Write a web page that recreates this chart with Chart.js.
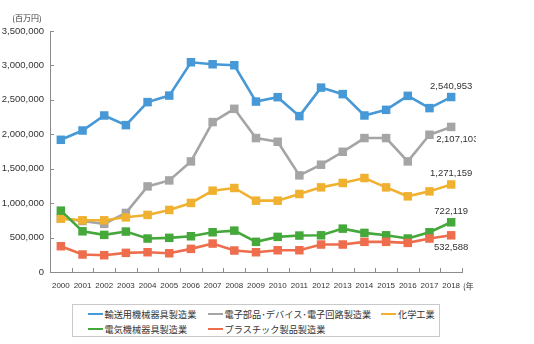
<!DOCTYPE html>
<html lang="ja">
<head>
<meta charset="utf-8">
<script src="https://cdn.jsdelivr.net/npm/chart.js@4/dist/chart.umd.min.js"></script>
<style>
  html, body { margin: 0; padding: 0; background: #fff; }
  body { width: 534px; height: 344px; position: relative; overflow: hidden; }
  #wrap { position: absolute; left: 0; top: 0; width: 476px; height: 300px; }
  #legend {
    position: absolute; left: 72px; top: 304px; width: 366px; height: 31px;
    border: 1.5px solid #c9c9c9; box-sizing: content-box;
    font-family: "Noto Sans CJK JP", sans-serif; font-size: 9.2px; color: #333;
  }
  .item { position: absolute; display: flex; align-items: center; white-space: nowrap; height: 12px; }
  .sw { width: 15px; height: 2.5px; margin-right: 2px; }
</style>
</head>
<body>
<div id="wrap"><canvas id="c" width="476" height="300"></canvas></div>
<div id="legend"></div>
<script>
// 製造品出荷額等の推移（百万円）
const years = ['2000','2001','2002','2003','2004','2005','2006','2007','2008','2009',
               '2010','2011','2012','2013','2014','2015','2016','2017','2018'];
const yMax = 3500000;
const yStep = 500000;

const seriesNames = ['輸送用機械器具製造業', '電子部品･デバイス･電子回路製造業', '化学工業',
                     '電気機械器具製造業', 'プラスチック製品製造業'];

const transport   = [1920000, 2055000, 2273000, 2133000, 2467000, 2562000, 3046000, 3017000, 3003000, 2475000,
                     2539000, 2264000, 2678000, 2583000, 2273000, 2355000, 2558000, 2380000, 2540953];
const electronics = [780000, 740000, 699000, 858000, 1243000, 1330000, 1606000, 2177000, 2370000, 1945000,
                     1891000, 1403000, 1558000, 1746000, 1945000, 1945000, 1606000, 1993000, 2107103];
const chemical    = [775000, 751000, 751000, 794000, 829000, 901000, 1003000, 1181000, 1220000, 1036000,
                     1036000, 1133000, 1229000, 1293000, 1365000, 1229000, 1099000, 1171000, 1271159];
const electrical  = [891000, 591000, 539000, 587000, 486000, 496000, 519000, 577000, 601000, 438000,
                     510000, 529000, 533000, 630000, 568000, 533000, 486000, 577000, 722119];
const plastic     = [374000, 254000, 244000, 278000, 287000, 272000, 336000, 413000, 312000, 287000,
                     316000, 316000, 399000, 399000, 438000, 438000, 423000, 486000, 532588];

const colors = ['#4699d6', '#a5a5a5', '#f1b130', '#45a83b', '#ee6d4d'];
const seriesData = [transport, electronics, chemical, electrical, plastic];

// label placement for the final-year values: [dx, dy, align]
const endLabelPos = [[0, -11, 'center'], [-15, 12, 'left'], [0, -11, 'center'], [0, -11, 'center'], [0, 12, 'center']];

const fmt = v => v.toLocaleString('en-US');
const numFont = '"Liberation Sans", Arial, sans-serif';

const datasets = seriesData.map((d, i) => ({
  label: seriesNames[i],
  data: d,
  borderColor: colors[i],
  backgroundColor: colors[i],
  borderWidth: 2.6,
  pointStyle: 'rect',
  pointRadius: 6,
  pointBorderWidth: 0,
  pointBackgroundColor: colors[i],
  tension: 0,
  order: seriesData.length - i
}));

// short inward tick marks, unit captions and end-of-line value labels
const decor = {
  id: 'decor',
  afterDraw(chart) {
    const { ctx, chartArea: a, scales: { x, y } } = chart;
    ctx.save();
    ctx.strokeStyle = '#8c8c8c';
    ctx.lineWidth = 1;
    ctx.beginPath();
    for (let v = 0; v <= yMax; v += yStep) {
      const py = Math.round(y.getPixelForValue(v)) + 0.5;
      ctx.moveTo(a.left, py); ctx.lineTo(a.left + 4, py);
    }
    const half = (x.getPixelForValue(1) - x.getPixelForValue(0)) / 2;
    for (let i = 0; i < years.length; i++) {
      const px = Math.round(x.getPixelForValue(i) + half) + 0.5;
      ctx.moveTo(px, a.bottom); ctx.lineTo(px, a.bottom - 4);
    }
    ctx.stroke();

    ctx.fillStyle = '#333';
    ctx.font = '8px "Noto Sans CJK JP", sans-serif';
    ctx.textBaseline = 'middle';
    ctx.textAlign = 'center';
    ctx.fillText('(百万円)', 27, 18);
    ctx.textAlign = 'left';
    ctx.fillText('(年', a.right + 1, 286);
    ctx.restore();
  },
  afterDatasetsDraw(chart) {
    const { ctx } = chart;
    ctx.save();
    ctx.fillStyle = '#333';
    ctx.font = '9.5px ' + numFont;
    ctx.textBaseline = 'middle';
    chart.data.datasets.forEach((ds, i) => {
      const meta = chart.getDatasetMeta(i);
      const last = ds.data.length - 1;
      const pt = meta.data[last];
      const [dx, dy, align] = endLabelPos[i];
      ctx.textAlign = align;
      ctx.fillText(fmt(ds.data[last]), pt.x + dx, pt.y + dy);
    });
    ctx.restore();
  }
};

new Chart(document.getElementById('c'), {
  type: 'line',
  data: { labels: years, datasets },
  options: {
    responsive: false,
    animation: false,
    layout: { padding: { top: 31, right: 14, bottom: 8, left: 0 } },
    plugins: { legend: { display: false }, tooltip: { enabled: false } },
    scales: {
      x: {
        offset: true,
        grid: { display: true, offset: true, drawOnChartArea: false, drawTicks: false },
        border: { display: true, color: '#8c8c8c', width: 1 },
        ticks: { padding: 9, color: '#333', font: { size: 8, family: numFont }, maxRotation: 0, autoSkip: false },
        afterFit(s) { s.height = 20; }
      },
      y: {
        min: 0, max: yMax,
        grid: { drawOnChartArea: false, drawTicks: false },
        border: { display: true, color: '#8c8c8c', width: 1 },
        ticks: { stepSize: yStep, padding: 6, color: '#333', font: { size: 9.5, family: numFont },
                 callback: v => fmt(v) },
        afterFit(s) { s.width = 50; }
      }
    }
  },
  plugins: [decor]
});

// legend laid out in three columns
const legendPos = [[14.5, 3], [134.5, 3], [308, 3], [14.5, 18], [134.5, 18]];
const legend = document.getElementById('legend');
seriesNames.forEach((name, i) => {
  const it = document.createElement('div');
  it.className = 'item';
  it.style.left = legendPos[i][0] + 'px';
  it.style.top = legendPos[i][1] + 'px';
  const sw = document.createElement('span');
  sw.className = 'sw';
  sw.style.background = colors[i];
  const tx = document.createElement('span');
  tx.textContent = name;
  it.appendChild(sw); it.appendChild(tx);
  legend.appendChild(it);
});
</script>
</body>
</html>
